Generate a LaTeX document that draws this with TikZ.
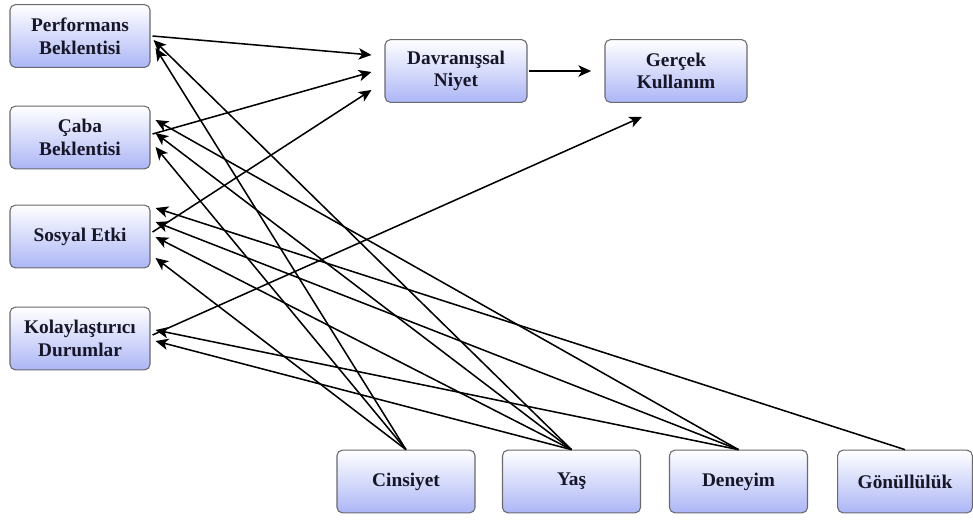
\documentclass[tikz,border=0pt]{standalone}
\usepackage{fontspec}
\setmainfont{Liberation Serif}
\usetikzlibrary{arrows.meta,calc}

\definecolor{boxblue}{RGB}{172,182,246}
\definecolor{boxline}{RGB}{105,105,110}
\definecolor{boxtext}{RGB}{22,22,40}

\tikzset{
  box/.style={rectangle,rounded corners=4pt,draw=boxline,line width=.8pt,
    top color=white,bottom color=boxblue,minimum width=105pt,minimum height=47pt,
    align=center,text=boxtext,font=\fontsize{14.5}{17}\selectfont\bfseries},
  link/.style={draw,line width=1.15pt,-{Stealth[length=9.5pt,width=8.5pt,inset=2.5pt]}}
}

\begin{document}
\begin{tikzpicture}[x=0.75pt,y=-0.75pt]

      \useasboundingbox (0,0) rectangle (973,519);

      \begin{scope}[every node/.style={box}]
        \node (1)  at (80,36)    {Performans\\Beklentisi};
        \node (2)  at (80,137.5) {Çaba\\Beklentisi};
        \node (3)  at (80,236.5) {Sosyal Etki};
        \node (4)  at (80,338.5) {Kolaylaştırıcı\\Durumlar};
        \node[minimum width=106.5pt] (5) at (456,71) {Davranışsal\\Niyet};
        \node[minimum width=106.5pt] (6) at (676,71) {Gerçek\\Kullanım};
        \node[minimum width=103.5pt] (7)  at (406,481.5) {Cinsiyet};
        \node[minimum width=103.5pt] (8)  at (571.5,481.5) {Yaş};
        \node[minimum width=103.5pt] (9)  at (738.5,481.5) {Deneyim};
        \node[minimum width=101pt]   (10) at (905,481.5) {Gönüllülük};
      \end{scope}

      \begin{scope}[every edge/.style={link}]
        % main paths
        \path ($(1.east)+(2,0)$)    edge ($(5.west)+(-13,-16)$);
        \path ($(2.east)+(2,-3.5)$) edge ($(5.west)+(-13,1)$);
        \path ($(3.east)+(2,-4.5)$) edge ($(5.west)+(-13,19)$);
        \path ($(4.east)+(2,-3.5)$) edge ($(6.south)+(-34,14)$);
        \path (5) edge[line width=1.5pt,shorten <=1pt,shorten >=10pt] (6);

        % moderators
        \path (7.north)  edge ($(1.east)+(5,12)$);
        \path (7.north)  edge ($(2.east)+(5,9.5)$);
        \path (7.north)  edge ($(3.east)+(5,21.5)$);
        \path (8.north)  edge ($(1.east)+(3,4)$);
        \path (8.north)  edge ($(2.east)+(5,-4.5)$);
        \path (8.north)  edge ($(3.east)+(5,0.5)$);
        \path (8.north)  edge ($(4.east)+(5,2.5)$);
        \path (9.north)  edge ($(2.east)+(5,-17.5)$);
        \path (9.north)  edge ($(3.east)+(5,-14.5)$);
        \path (9.north)  edge ($(4.east)+(5,-8.5)$);
        \path (10.north) edge ($(3.east)+(5,-28.5)$);
      \end{scope}

    \end{tikzpicture}
\end{document}
